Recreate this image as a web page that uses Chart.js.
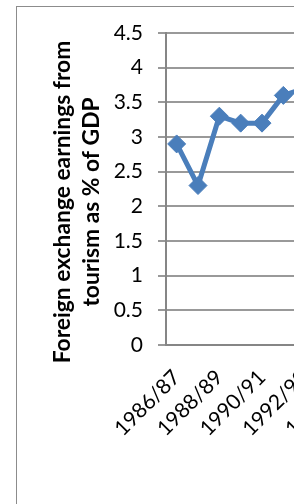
<!DOCTYPE html>
<html>
<head>
<meta charset="utf-8">
<script src="https://cdn.jsdelivr.net/npm/chart.js@4"></script>
<style>
  html, body { margin: 0; padding: 0; width: 294px; height: 504px; overflow: hidden; background: #fff; }
  #frame { position: absolute; left: 16px; top: 6px; width: 440px; height: 540px; border: 1px solid #8c8c8c; }
  #wrap { position: absolute; left: 0; top: 0; width: 380px; height: 504px; }
</style>
</head>
<body>
<div id="frame"></div>
<div id="wrap"><canvas id="chart" width="380" height="504"></canvas></div>
<script>
// values; the chart is cut off on the right
const years = ['1986/87', '1987/88', '1988/89', '1989/90', '1990/91', '1991/92', '1992/93', '1993/94', '1994/95'];
const earningsPct = [2.9, 2.3, 3.3, 3.2, 3.2, 3.6, 3.7, null, null];
const yTitle = ['Foreign exchange earnings from', 'tourism as % of GDP'];

const gridGray = '#999999';
const axisGray = '#868686';
const lineBlue = '#4a7ebb';

// Excel puts the axis title a bit lower than the plot centre, so draw it by hand
const yTitlePlugin = {
    id: 'yTitleLines',
    afterDraw(chart) {
        const ctx = chart.ctx;
        const lineX = [63, 92];
        ctx.save();
        ctx.font = 'bold 22.8px Lato';
        ctx.fillStyle = '#000';
        ctx.textAlign = 'center';
        ctx.textBaseline = 'middle';
        yTitle.forEach(function (text, i) {
            ctx.save();
            ctx.translate(lineX[i], 202);
            ctx.rotate(-Math.PI / 2);
            ctx.fillText(text, 0, 0);
            ctx.restore();
        });
        ctx.restore();
    }
};

new Chart(document.getElementById('chart'), {
    type: 'line',
    data: {
        labels: years,
        datasets: [{
            label: 'Foreign exchange earnings',
            data: earningsPct,
            borderColor: lineBlue,
            backgroundColor: lineBlue,
            borderWidth: 5,
            pointStyle: 'rectRot',
            pointRadius: 9,
            pointBorderWidth: 1,
            tension: 0
        }]
    },
    options: {
        responsive: false,
        animation: false,
        devicePixelRatio: 1,
        layout: { padding: { left: 0, top: 33, right: 22, bottom: 0 } },
        plugins: {
            legend: { display: false },
            tooltip: { enabled: false }
        },
        scales: {
            x: {
                type: 'category',
                offset: true,
                grid: { display: false },
                border: { display: true, color: axisGray, width: 2 },
                ticks: {
                    autoSkip: false,
                    maxRotation: 45,
                    minRotation: 45,
                    padding: 12,
                    color: '#000',
                    font: { family: 'Lato', size: 21 },
                    callback: function (value, index) {
                        return index % 2 === 0 ? years[index] : '';
                    }
                },
                afterFit: function (scale) { scale.height = 159; }
            },
            y: {
                min: 0,
                max: 4.5,
                grid: { color: gridGray, lineWidth: 2, tickLength: 8 },
                border: { display: true, color: axisGray, width: 2 },
                ticks: {
                    stepSize: 0.5,
                    padding: 15,
                    color: '#000',
                    font: { family: 'Lato', size: 21 },
                    callback: function (value) { return String(value); }
                },
                afterFit: function (scale) { scale.width = 166; }
            }
        }
    },
    plugins: [yTitlePlugin]
});
</script>
</body>
</html>
